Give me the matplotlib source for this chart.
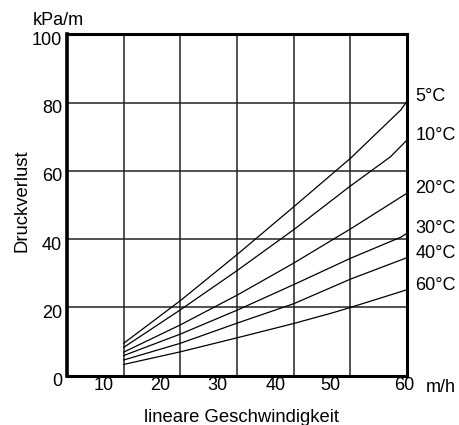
import matplotlib
matplotlib.use('Agg')
import matplotlib.pyplot as plt
import matplotlib.transforms as mtransforms

plt.rcParams['font.family'] = ['Liberation Sans', 'DejaVu Sans']

# ------------------------------- Daten ---------------------------------------
# Druckverlust (kPa/m) ueber lineare Geschwindigkeit (m/h), je Temperatur
temps = ['5°C', '10°C', '20°C', '30°C', '40°C', '60°C']

v_5 = [10, 20, 30, 40, 50, 58.9, 60]
p_5 = [9.5, 22.0, 35.5, 49.5, 63.7, 77.9, 80.5]

v_10 = [10, 20, 30, 40, 50, 57.1, 60]
p_10 = [8.3, 19.3, 30.8, 42.8, 55.6, 64.2, 69.1]

v_20 = [10, 20, 30, 40, 50, 60]
p_20 = [6.9, 14.9, 23.6, 33.0, 43.0, 53.5]

v_30 = [10, 20, 30, 40, 50, 58.9, 60]
p_30 = [5.9, 12.2, 19.2, 26.7, 34.4, 40.6, 41.8]

v_40 = [10, 20, 30, 40, 50, 60]
p_40 = [4.6, 9.5, 15.4, 21.1, 28.3, 34.6]

v_60 = [10, 20, 30, 40, 47, 50, 60]
p_60 = [3.3, 7.0, 11.1, 15.3, 18.5, 20.0, 25.2]

curves = [(v_5, p_5), (v_10, p_10), (v_20, p_20),
          (v_30, p_30), (v_40, p_40), (v_60, p_60)]

# Achsen
x_grid = [10, 20, 30, 40, 50]
xtick_labels = ['10', '20', '30', '40', '50', '60']
xtick_pos = [6.5, 16.4, 26.6, 36.8, 46.5, 59.5]   # Beschriftung sitzt im Original versetzt
y_ticks = [0, 20, 40, 60, 80, 100]

# ------------------------------- Plot ----------------------------------------
fig = plt.figure(figsize=(4.59, 4.25), dpi=100)
ax = fig.add_axes([0.146, 0.116, 0.741, 0.803])

for (v, p), label in zip(curves, temps):
    ax.plot(v, p, color='black', lw=0.9)
    ax.annotate(label, xy=(v[-1], p[-1]), xytext=(6, 0), textcoords='offset points',
                ha='left', va='baseline', fontsize=13, annotation_clip=False)

ax.set_xlim(0, 60)
ax.set_ylim(0, 100)

ax.set_xticks(x_grid)
ax.set_xticklabels([])
ax.set_xticks(xtick_pos, labels=xtick_labels, minor=True)
ax.set_yticks(y_ticks)
ax.tick_params(which='both', length=0, labelsize=13)
ax.tick_params(axis='x', which='minor', pad=1)
ax.grid(True, which='major', color='#222222', lw=1.1)

# y-Beschriftung sitzt etwas unterhalb der Gitterlinie
offset = mtransforms.ScaledTranslation(0, -0.04, fig.dpi_scale_trans)
for lbl in ax.get_yticklabels():
    lbl.set_transform(lbl.get_transform() + offset)

for side in ['left', 'right', 'top', 'bottom']:
    ax.spines[side].set_linewidth(2.2)
ax.spines['left'].set_linewidth(2.6)

ax.text(-0.102, 1.0276, 'kPa/m', transform=ax.transAxes, fontsize=13,
        ha='left', va='baseline')
ax.text(1.055, -0.047, 'm/h', transform=ax.transAxes, fontsize=13,
        ha='left', va='baseline')
ax.text(0.512, -0.135, 'lineare Geschwindigkeit', transform=ax.transAxes,
        fontsize=13.3, ha='center', va='baseline')
ax.text(-0.1185, 0.512, 'Druckverlust', transform=ax.transAxes, fontsize=13.3,
        rotation=90, rotation_mode='anchor', ha='center', va='baseline')

fig.savefig('out.png', dpi=100)
